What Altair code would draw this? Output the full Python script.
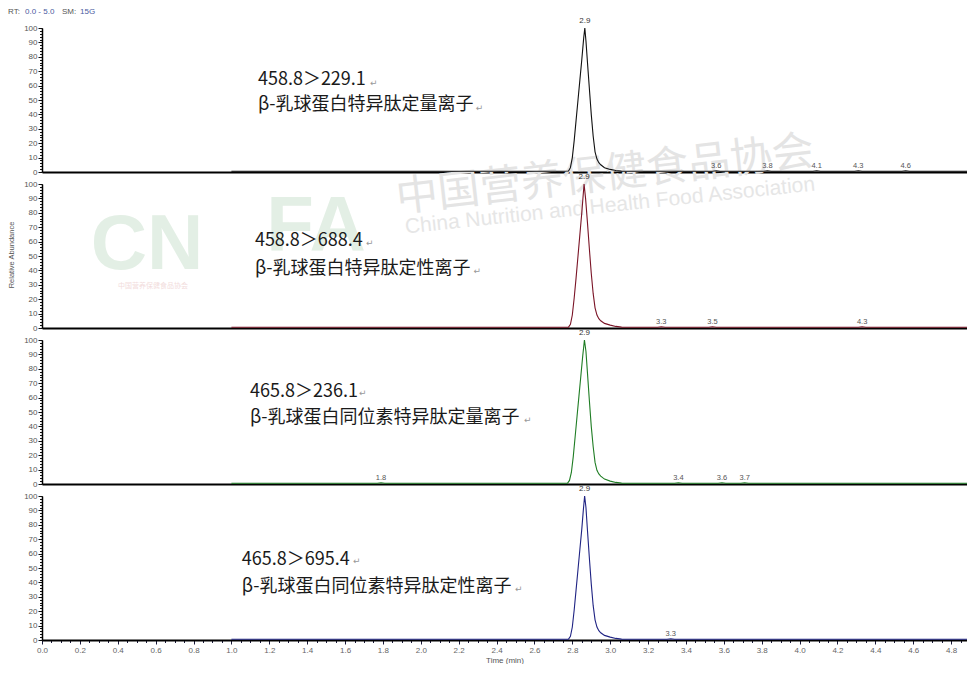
import altair as alt
import pandas as pd

# ---------------- data ----------------
t1 = [1.00, 2.40, 2.70, 2.780, 2.790, 2.800, 2.810, 2.820, 2.830, 2.840, 2.850, 2.860, 2.866,
      2.872, 2.880, 2.890, 2.900, 2.910, 2.920, 2.930, 2.940, 2.950, 2.970, 3.000, 3.030, 3.060,
      3.540, 3.560, 3.580, 3.810, 3.830, 3.850, 4.070, 4.090, 4.110, 4.290, 4.310, 4.330,
      4.540, 4.560, 4.580, 4.950]
i1 = [0.5, 0.5, 0.5, 0.7, 3.0, 10.0, 22.0, 36.0, 50.0, 64.0, 78.0, 93.0, 100.0,
      91.0, 76.0, 58.0, 40.0, 25.0, 14.0, 9.0, 6.5, 5.0, 3.0, 1.8, 1.0, 0.6,
      0.5, 0.9, 0.5, 0.5, 0.9, 0.5, 0.5, 0.9, 0.5, 0.5, 0.9, 0.5,
      0.5, 0.9, 0.5, 0.5]

t2 = [1.00, 2.70, 2.780, 2.790, 2.800, 2.810, 2.820, 2.830, 2.840, 2.850, 2.862,
      2.870, 2.880, 2.890, 2.900, 2.910, 2.920, 2.930, 2.940, 2.950, 2.970, 3.000, 3.030, 3.060,
      3.250, 3.270, 3.290, 3.520, 3.540, 3.560, 4.310, 4.330, 4.350, 4.950]
i2 = [0.5, 0.5, 0.6, 2.5, 9.0, 21.0, 35.0, 50.0, 65.0, 80.0, 100.0,
      90.0, 73.0, 55.0, 38.0, 24.0, 14.0, 9.0, 6.5, 5.0, 3.2, 2.0, 1.1, 0.6,
      0.5, 0.9, 0.5, 0.5, 0.9, 0.5, 0.5, 0.9, 0.5, 0.5]

t3 = [1.00, 1.770, 1.790, 1.810, 2.70, 2.775, 2.785, 2.795, 2.805, 2.815, 2.825, 2.835, 2.845,
      2.855, 2.864, 2.872, 2.880, 2.890, 2.900, 2.910, 2.920, 2.930, 2.940, 2.950, 2.970, 3.000,
      3.030, 3.060, 3.340, 3.360, 3.380, 3.570, 3.590, 3.610, 3.690, 3.710, 3.730, 4.950]
i3 = [0.5, 0.5, 0.9, 0.5, 0.5, 0.6, 2.5, 8.0, 19.0, 33.0, 47.0, 61.0, 75.0,
      89.0, 100.0, 92.0, 77.0, 58.0, 40.0, 26.0, 15.0, 9.5, 7.0, 5.5, 3.4, 2.0,
      1.1, 0.6, 0.5, 0.9, 0.5, 0.5, 0.9, 0.5, 0.5, 0.9, 0.5, 0.5]

t4 = [1.00, 2.70, 2.780, 2.790, 2.800, 2.810, 2.820, 2.830, 2.840, 2.850, 2.858, 2.865,
      2.872, 2.880, 2.890, 2.900, 2.910, 2.920, 2.930, 2.940, 2.950, 2.970, 3.000, 3.030, 3.060,
      3.300, 3.320, 3.340, 4.950]
i4 = [0.5, 0.5, 0.6, 2.5, 9.0, 21.0, 35.0, 49.0, 63.0, 77.0, 90.0, 100.0,
      92.0, 76.0, 57.0, 39.0, 24.0, 14.0, 9.0, 6.5, 5.0, 3.2, 2.0, 1.1, 0.6,
      0.5, 0.9, 0.5, 0.5]

apex_t = [2.866, 2.862, 2.864, 2.865]
apex_label = ["2.9", "2.9", "2.9", "2.9"]

minor_t = [[3.56, 3.83, 4.09, 4.31, 4.56],
           [3.27, 3.54, 4.33],
           [1.79, 3.36, 3.59, 3.71],
           [3.32]]
minor_lab = [["3.6", "3.8", "4.1", "4.3", "4.6"],
             ["3.3", "3.5", "4.3"],
             ["1.8", "3.4", "3.6", "3.7"],
             ["3.3"]]

ann_text = [["458.8＞229.1", "β-乳球蛋白特异肽定量离子"],
            ["458.8＞688.4", "β-乳球蛋白特异肽定性离子"],
            ["465.8＞236.1", "β-乳球蛋白同位素特异肽定量离子"],
            ["465.8＞695.4", "β-乳球蛋白同位素特异肽定性离子"]]
ann_t = [1.14, 1.124, 1.098, 1.055]
ann_v = [[63.9, 46.5], [60.4, 41.0], [63.9, 45.8], [55.6, 36.8]]
ret_t = [[1.732, 2.290], [1.711, 2.278], [1.674, 2.545], [1.642, 2.497]]
ret_v = [[61.8, 44.4], [59.0, 39.6], [63.2, 44.4], [54.9, 35.4]]

colors = ["#111111", "#7a1426", "#1f7d24", "#1f2383"]
TIMES = [t1, t2, t3, t4]
INTENS = [i1, i2, i3, i4]

# ---------------- layout ----------------
W = 925
H = 144
PX_PER_MIN = 189.4
x_max = W / PX_PER_MIN

x_major_vals = [round(i * 0.2, 1) for i in range(0, 25)]
x_minor_vals = [round(i * 0.05, 2) for i in range(0, 98)]
y_major_vals = list(range(0, 101, 10))
y_minor_vals = list(range(0, 101, 2))

AXF = "Liberation Sans"

y_axis_major = alt.Axis(values=y_major_vals, orient="left", tickSize=4,
                        tickColor="#111", tickWidth=1, domainColor="#000", domainWidth=1.5,
                        labelFont=AXF, labelFontSize=8, labelColor="#555", labelPadding=1,
                        labelOverlap=False, labelFlush=False, grid=False, title=None)
y_axis_minor = alt.Axis(values=y_minor_vals, orient="left", tickSize=2.5,
                        tickColor="#111", tickWidth=1, domain=False, labels=False,
                        grid=False, title=None)

x_axis_bottom = alt.Axis(values=x_major_vals, orient="bottom", format=".1f", tickSize=4,
                         tickColor="#1a1a3a", tickWidth=1, domainColor="#000", domainWidth=2,
                         labelFont=AXF, labelFontSize=8, labelColor="#666", labelPadding=2,
                         labelOverlap=False, labelFlush=False, grid=False,
                         title="Time (min)", titleFont=AXF, titleFontSize=8,
                         titleFontWeight="normal", titleColor="#555", titlePadding=2)
x_axis_bottom_minor = alt.Axis(values=x_minor_vals, orient="bottom", tickSize=2.5,
                               tickColor="#1a1a3a", tickWidth=1, domain=False, labels=False,
                               grid=False, title=None)
x_axis_plain = alt.Axis(orient="bottom", labels=False, ticks=False, domainColor="#000",
                        domainWidth=2, grid=False, title=None)

xsc = alt.Scale(domain=[0, x_max], nice=False, zero=False)
ysc = alt.Scale(domain=[0, 100], nice=False)


def watermark_layers(items):
    out = []
    for txt, px, py, fs, ang, col, fnt, fw in items:
        out.append(alt.Chart(pd.DataFrame({"s": [txt]})).mark_text(
            align="center", baseline="middle", fontSize=fs, angle=ang, color=col,
            font=fnt, fontWeight=fw).encode(x=alt.value(px), y=alt.value(py), text="s:N"))
    return out


def panel(k):
    layers = []
    if k == 0:
        # faint association watermark (drawn underneath everything that follows)
        layers += watermark_layers([
            ("中国营养保健食品协会", 563, 147, 42, 353.5, "#e4e4e4", "Noto Sans CJK SC", "normal"),
            ("China Nutrition and Health Food Association", 568, 178, 21, 354, "#e6e6e6", "Liberation Sans", "normal"),
        ])
    if k == 1:
        layers += watermark_layers([
            ("CN", 105, 62, 78, 0, "#e3efe5", "Liberation Sans", "bold"),
            ("FA", 274, 44, 78, 0, "#e3efe5", "Liberation Sans", "bold"),
            ("中国营养保健食品协会", 111, 102, 7, 0, "#f2dcdc", "Noto Sans CJK SC", "normal"),
        ])
        layers.append(alt.Chart(pd.DataFrame({"s": ["Relative Abundance"]})).mark_text(
            align="center", baseline="middle", fontSize=7.5, angle=270, color="#555",
            font=AXF).encode(x=alt.value(-30), y=alt.value(71), text="s:N"))

    df = pd.DataFrame({"t": TIMES[k], "v": INTENS[k]})
    # invisible copy of the trace that carries the minor-tick axes
    layers.append(alt.Chart(df).mark_line(strokeOpacity=0, clip=True).encode(
        x=alt.X("t:Q", scale=xsc, axis=x_axis_bottom_minor if k == 3 else None),
        y=alt.Y("v:Q", scale=ysc, axis=y_axis_minor)))
    layers.append(alt.Chart(df).mark_line(color=colors[k], strokeWidth=1.1, clip=True).encode(
        x=alt.X("t:Q", scale=xsc, axis=x_axis_bottom if k == 3 else x_axis_plain),
        y=alt.Y("v:Q", scale=ysc, axis=y_axis_major)))

    pk = pd.DataFrame({"t": [apex_t[k]], "v": [100.0], "lab": [apex_label[k]]})
    layers.append(alt.Chart(pk).mark_text(baseline="bottom", dy=-3, fontSize=8, font=AXF,
                                          color="#333").encode(
        x=alt.X("t:Q", scale=xsc, axis=None), y=alt.Y("v:Q", scale=ysc, axis=None), text="lab:N"))

    mn = pd.DataFrame({"t": minor_t[k], "v": [0.9] * len(minor_t[k]), "lab": minor_lab[k]})
    layers.append(alt.Chart(mn).mark_text(baseline="bottom", dy=-1, fontSize=7.5, font=AXF,
                                          color="#555").encode(
        x=alt.X("t:Q", scale=xsc, axis=None), y=alt.Y("v:Q", scale=ysc, axis=None), text="lab:N"))

    an = pd.DataFrame({"t": [ann_t[k]] * 2, "v": ann_v[k], "s": ann_text[k]})
    layers.append(alt.Chart(an).mark_text(align="left", baseline="middle", fontSize=18,
                                          font="Noto Sans CJK SC", color="#1a1a1a").encode(
        x=alt.X("t:Q", scale=xsc, axis=None), y=alt.Y("v:Q", scale=ysc, axis=None), text="s:N"))

    rt = pd.DataFrame({"t": ret_t[k], "v": ret_v[k], "s": ["↵", "↵"]})
    layers.append(alt.Chart(rt).mark_text(align="left", baseline="middle", fontSize=9,
                                          font="DejaVu Sans", color="#999").encode(
        x=alt.X("t:Q", scale=xsc, axis=None), y=alt.Y("v:Q", scale=ysc, axis=None), text="s:N"))

    if k == 0:
        rtd = pd.DataFrame({"s": ["RT:", "0.0 - 5.0", "SM:", "15G"],
                            "px": [-34, -17, 20, 38],
                            "c": ["#555555", "#4a5aa0", "#555555", "#4a5aa0"]})
        layers.append(alt.Chart(rtd).mark_text(align="left", baseline="middle", fontSize=8,
                                               font=AXF).encode(
            x=alt.X("px:Q", scale=None, axis=None), y=alt.value(-16),
            text="s:N", color=alt.Color("c:N", scale=None)))

    return alt.layer(*layers).resolve_axis(x="independent", y="independent").properties(
        width=W, height=H)


chart = alt.vconcat(*[panel(k) for k in range(4)], spacing=12, bounds="flush").properties(
    padding=0).configure_view(stroke=None)

chart.save("out.html", embed_options={"renderer": "svg", "actions": False})
